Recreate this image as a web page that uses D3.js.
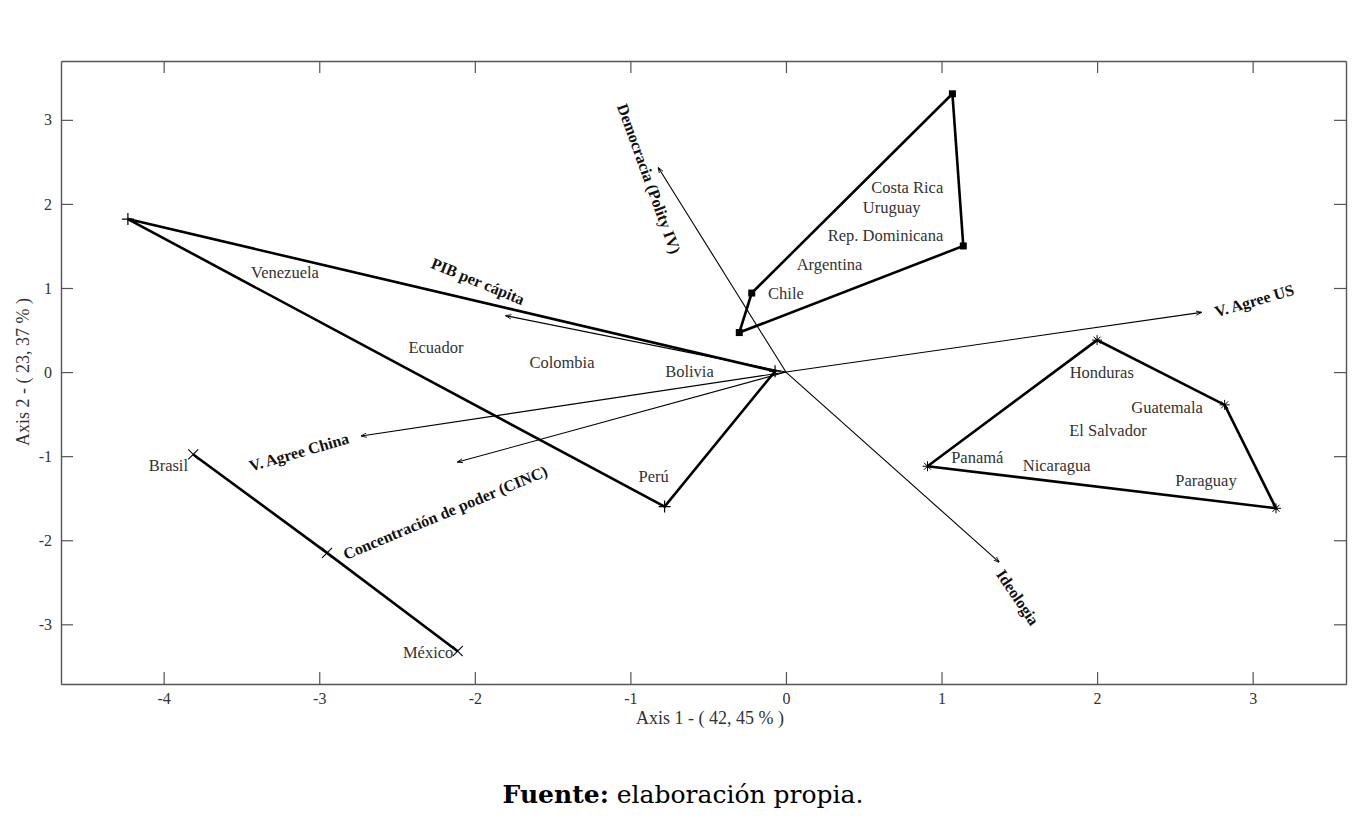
<!DOCTYPE html>
<html>
<head>
<meta charset="utf-8">
<script src="https://cdn.jsdelivr.net/npm/d3@7"></script>
<style>
  body { margin: 0; background: #fff; }
  svg { display: block; }
</style>
</head>
<body>
<svg id="biplot"></svg>
<script>
// ---- data (axis units) ----
var xTicks = [-4, -3, -2, -1, 0, 1, 2, 3];
var yTicks = [-3, -2, -1, 0, 1, 2, 3];

// cluster hulls (vertices in drawing order)
var hullPlus   = [[-4.23, 1.82], [-0.07, 0.01], [-0.78, -1.60]];
var hullSquare = [[-0.30, 0.47], [-0.22, 0.94], [1.07, 3.31], [1.14, 1.50]];
var hullStar   = [[0.91, -1.12], [2.00, 0.38], [2.82, -0.39], [3.15, -1.62]];
var lineCross  = [[-3.81, -0.98], [-2.95, -2.15], [-2.11, -3.32]];

// country names and where they sit
var countryNames = ["Venezuela", "Ecuador", "Colombia", "Bolivia", "Perú",
  "Costa Rica", "Uruguay", "Rep. Dominicana", "Argentina", "Chile",
  "Honduras", "Guatemala", "El Salvador", "Panamá", "Nicaragua", "Paraguay",
  "Brasil", "México"];
var countryX = [-3.22, -2.25, -1.44, -0.62, -0.85,
  0.78, 0.68, 0.64, 0.28, 0.0,
  2.03, 2.45, 2.07, 1.23, 1.74, 2.70,
  -3.97, -2.30];
var countryY = [1.18, 0.29, 0.11, 0.01, -1.24,
  2.20, 1.96, 1.62, 1.28, 0.94,
  0.0, -0.42, -0.69, -1.02, -1.11, -1.29,
  -1.11, -3.34];

// variable vectors (from the origin)
var varNames = ["Democracia (Polity IV)", "Ideologia", "V. Agree US",
  "PIB per cápita", "V. Agree China", "Concentración de poder (CINC)"];
var varX = [-0.82, 1.37, 2.67, -1.80, -2.73, -2.11];
var varY = [2.43, -2.26, 0.71, 0.67, -0.76, -1.07];
// label centres
var varLabelX = [-0.88, 1.49, 3.01, -1.98, -3.13, -2.19];
var varLabelY = [2.30, -2.68, 0.85, 1.08, -0.95, -1.67];

var xLabel = "Axis 1 - ( 42, 45 % )";
var yLabel = "Axis 2 - ( 23, 37 % )";

// ---- drawing ----
var width = 1364,
    height = 838;
var margin = {left: 61, right: 1346, top: 61, bottom: 684};
var serif = "'Liberation Serif', 'Times New Roman', serif";
var varAngle = [70, 56, -16, 22.3, -16, -22.7];

var svg = d3.select("#biplot")
  .attr("width", width)
  .attr("height", height)
  .style("font-family", serif);

svg.append("rect").attr("width", width).attr("height", height).attr("fill", "#fff");

var x = d3.scaleLinear().domain([-4.66, 3.60]).range([margin.left, margin.right]);
var y = d3.scaleLinear().domain([-3.71, 3.70]).range([margin.bottom, margin.top]);

var defs = svg.append("defs");
defs.append("marker")
  .attr("id", "arrow")
  .attr("viewBox", "0 0 10 10")
  .attr("refX", 9).attr("refY", 5)
  .attr("markerWidth", 6).attr("markerHeight", 6)
  .attr("markerUnits", "userSpaceOnUse")
  .attr("orient", "auto")
  .append("path")
  .attr("d", "M0,1.5 L10,5 L0,8.5")
  .attr("fill", "none")
  .attr("stroke", "#000")
  .attr("stroke-width", 1.4);

// axes, MATLAB-like box with inward ticks
var axisColor = "#555";
var plain = function(d) { return String(d); };
function styleAxis(g) {
  g.select(".domain").attr("stroke", axisColor).attr("stroke-width", 1.4);
  g.selectAll(".tick line").attr("stroke", axisColor).attr("stroke-width", 1.2);
  g.selectAll(".tick text")
    .attr("fill", "#333")
    .style("font-family", serif)
    .style("font-size", "16px");
}

svg.append("g")
  .attr("transform", "translate(0," + margin.bottom + ")")
  .call(d3.axisBottom(x).tickValues(xTicks).tickFormat(plain).tickSizeInner(-12).tickSizeOuter(0).tickPadding(9))
  .call(styleAxis);

svg.append("g")
  .attr("transform", "translate(0," + margin.top + ")")
  .call(d3.axisTop(x).tickValues(xTicks).tickSizeInner(-12).tickSizeOuter(0).tickFormat(""))
  .call(styleAxis);

svg.append("g")
  .attr("transform", "translate(" + margin.left + ",0)")
  .call(d3.axisLeft(y).tickValues(yTicks).tickFormat(plain).tickSizeInner(-12).tickSizeOuter(0).tickPadding(9))
  .call(styleAxis);

svg.append("g")
  .attr("transform", "translate(" + margin.right + ",0)")
  .call(d3.axisRight(y).tickValues(yTicks).tickSizeInner(-12).tickSizeOuter(0).tickFormat(""))
  .call(styleAxis);

svg.append("text")
  .attr("x", 710).attr("y", 724)
  .attr("text-anchor", "middle")
  .attr("fill", "#333")
  .style("font-size", "18px")
  .text(xLabel);

svg.append("text")
  .attr("transform", "translate(29,372) rotate(-90)")
  .attr("text-anchor", "middle")
  .attr("fill", "#333")
  .style("font-size", "18px")
  .text(yLabel);

// variable vectors
var plot = svg.append("g");
varNames.forEach(function(name, i) {
  plot.append("line")
    .attr("x1", x(0)).attr("y1", y(0))
    .attr("x2", x(varX[i])).attr("y2", y(varY[i]))
    .attr("stroke", "#000")
    .attr("stroke-width", 1.1)
    .attr("marker-end", "url(#arrow)");
  plot.append("text")
    .attr("transform", "translate(" + x(varLabelX[i]) + "," + y(varLabelY[i]) + ") rotate(" + varAngle[i] + ")")
    .attr("text-anchor", "middle")
    .attr("dominant-baseline", "central")
    .attr("fill", "#111")
    .style("font-weight", "bold")
    .style("font-size", "16px")
    .text(name);
});

// cluster outlines
var line = d3.line().x(function(d) { return x(d[0]); }).y(function(d) { return y(d[1]); });
function hull(pts, closed) {
  plot.append("path")
    .attr("d", line(closed ? pts.concat([pts[0]]) : pts))
    .attr("fill", "none")
    .attr("stroke", "#000")
    .attr("stroke-width", 2.6)
    .attr("stroke-linejoin", "miter");
}
hull(hullPlus, true);
hull(hullSquare, true);
hull(hullStar, true);
hull(lineCross, false);

// markers
plot.selectAll(".m-plus").data(hullPlus).enter().append("path")
  .attr("transform", function(d) { return "translate(" + x(d[0]) + "," + y(d[1]) + ")"; })
  .attr("d", "M-6,0H6M0,-6V6")
  .attr("stroke", "#000").attr("stroke-width", 1.2);

plot.selectAll(".m-sq").data(hullSquare).enter().append("rect")
  .attr("x", function(d) { return x(d[0]) - 3.5; })
  .attr("y", function(d) { return y(d[1]) - 3.5; })
  .attr("width", 7).attr("height", 7)
  .attr("fill", "#000");

plot.selectAll(".m-star").data(hullStar).enter().append("path")
  .attr("transform", function(d) { return "translate(" + x(d[0]) + "," + y(d[1]) + ")"; })
  .attr("d", "M-5,0H5M0,-5V5M-3.5,-3.5L3.5,3.5M-3.5,3.5L3.5,-3.5")
  .attr("stroke", "#000").attr("stroke-width", 1);

plot.selectAll(".m-x").data(lineCross).enter().append("path")
  .attr("transform", function(d) { return "translate(" + x(d[0]) + "," + y(d[1]) + ")"; })
  .attr("d", "M-5,-5L5,5M-5,5L5,-5")
  .attr("stroke", "#000").attr("stroke-width", 1.1);

// country labels
plot.selectAll(".country").data(countryNames).enter().append("text")
  .attr("x", function(d, i) { return x(countryX[i]); })
  .attr("y", function(d, i) { return y(countryY[i]); })
  .attr("text-anchor", "middle")
  .attr("dominant-baseline", "central")
  .attr("fill", "#333")
  .style("font-size", "16.5px")
  .text(function(d) { return d; });

// caption
var cap = svg.append("text")
  .attr("x", 683).attr("y", 803)
  .attr("text-anchor", "middle")
  .attr("fill", "#000")
  .style("font-family", "'DejaVu Serif', serif")
  .style("font-size", "25px");
cap.append("tspan").style("font-weight", "bold").text("Fuente:");
cap.append("tspan").text(" elaboración propia.");
</script>
</body>
</html>
